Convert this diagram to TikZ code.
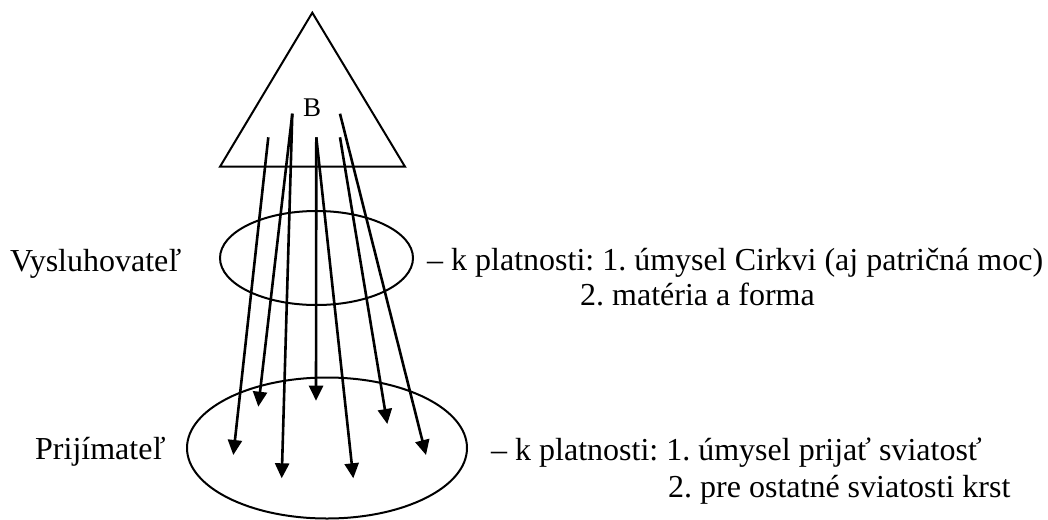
\documentclass[tikz,border=0pt]{standalone}
\usepackage{fontspec}
\setmainfont{Liberation Serif}
\usetikzlibrary{arrows.meta,shapes.geometric}
\frenchspacing
\begin{document}
\begin{tikzpicture}[x=1pt,y=-1pt,
  outline/.style={line width=2pt},
  ray/.style={line width=2.6pt,-{Triangle[width=14pt,length=15pt]}},
  lbl/.style={anchor=base west,inner sep=0pt,font=\fontsize{32}{35}\selectfont}]
\useasboundingbox (0,0) rectangle (1048,519);
% triangle
\coordinate (apex) at (312.3,12.7);
\coordinate (bl) at (220,166.7);
\coordinate (br) at (405,166.7);
\draw[outline,line join=miter] (apex) -- (br) -- (bl) -- cycle;
\node[inner sep=0pt,font=\fontsize{27}{30}\selectfont] (B) at (312,107.5) {B};
% ellipses
\node[draw,outline,ellipse,inner sep=0pt,minimum width=193pt,minimum height=94pt] (minister) at (316.5,258) {};
\node[draw,outline,ellipse,inner sep=0pt,minimum width=280pt,minimum height=141pt] (recipient) at (327,448) {};
% ray starts
\coordinate (s1) at (268.3,137.3);
\coordinate (s2) at (292.3,113.7);
\coordinate (s3) at (316.3,137.3);
\coordinate (s4) at (340,113.7);
\coordinate (s5) at (340,137.3);
% ray ends
\coordinate (ta) at (233.3,455);
\coordinate (tb) at (258.3,406.7);
\coordinate (tc) at (281.7,478.3);
\coordinate (td) at (316,400.7);
\coordinate (te) at (353.3,478.3);
\coordinate (tf) at (387.3,424);
\coordinate (tg) at (426,455);
\draw[ray] (s1) -- (ta);
\draw[ray] (s2) -- (tb);
\draw[ray] (s2) -- (tc);
\draw[ray] (s3) -- (td);
\draw[ray] (s3) -- (te);
\draw[ray] (s5) -- (tf);
\draw[ray] (s4) -- (tg);
% labels
\node[lbl] (vys) at (10,271) {Vysluhovateľ};
\node[lbl] (vys1) at (427,270) {– k platnosti: 1. úmysel Cirkvi (aj patričná moc)};
\node[lbl] (vys2) at (580,305) {2. matéria a forma};
\node[lbl] (pri) at (35,459) {Prijímateľ};
\node[lbl] (pri1) at (491,460) {– k platnosti: 1. úmysel prijať sviatosť};
\node[lbl] (pri2) at (668,497) {2. pre ostatné sviatosti krst};
\end{tikzpicture}
\end{document}
